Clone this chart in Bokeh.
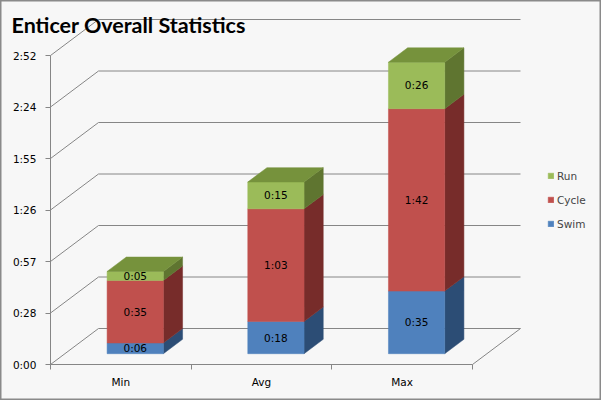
from bokeh.plotting import figure
from bokeh.models import Range1d, FixedTicker, Legend, LegendItem, Label, LinearAxis
from bokeh.embed import file_html
from bokeh.resources import INLINE
from bokeh.core.properties import value

# ---- data ----
categories = ["Min", "Avg", "Max"]
series = ["Swim", "Cycle", "Run"]
swim = [6, 18, 35]        # minutes
cycle = [35, 63, 102]
run = [5, 15, 26]
y_ticks = [0, 28.8, 57.6, 86.4, 115.2, 144, 172.8]
y_tick_labels = ["0:00", "0:28", "0:57", "1:26", "1:55", "2:24", "2:52"]

front_colors = ["#4f81bd", "#c0504d", "#9bbb59"]
side_colors = ["#2c4d75", "#772c2a", "#5f7530"]
top_color = "#76923c"
grid_color = "#868686"
bg = "#f7f7f7"
FONT = "DejaVu Sans"
FS = "10.5px"

def fmt(m):
    return f"{m // 60}:{m % 60:02d}"

# ---- layout (pixels) ----
W, H = 601, 400
ORIGIN_X, ORIGIN_Y = 50, 364  # canvas pixel of the front axes corner
PX_X = 140.67                 # px per category
PX_Y = 309 / 172.8            # px per minute
DX = 48 / PX_X                # depth offset in x data units
DY = 36 / PX_Y                # depth offset in y data units
BAR_W = 0.4
Z0, ZD = 0.3, 0.4             # bar depth start / depth fraction

p = figure(width=W, height=H,
           x_range=Range1d(-ORIGIN_X / PX_X, (W - ORIGIN_X) / PX_X),
           y_range=Range1d(-(H - ORIGIN_Y) / PX_Y, ORIGIN_Y / PX_Y),
           x_axis_location=None, y_axis_location=None,
           output_backend="svg", toolbar_location=None, min_border=0,
           background_fill_color=bg, border_fill_color=bg)
p.grid.visible = False
p.outline_line_color = "#8a8a8a"
p.outline_line_width = 2

n = len(categories)
# back wall gridlines + left wall diagonals
gx = [[0, DX, n + DX] for t in y_ticks]
gy = [[t, t + DY, t + DY] for t in y_ticks]
gx.append([n, n + DX])
gy.append([0, DY])
p.multi_line(gx, gy, line_color=grid_color, line_width=1)

# bars
stack = [swim, cycle, run]
front_renderers = []
label_x, label_y, label_t = [], [], []
for s, vals in enumerate(stack):
    fxs, fys, sxs, sys_ = [], [], [], []
    for i in range(n):
        lo = Z0 * DY + sum(stack[k][i] for k in range(s))
        hi = lo + vals[i]
        x0 = i + (1 - BAR_W) / 2 + Z0 * DX
        x1 = x0 + BAR_W
        ddx, ddy = ZD * DX, ZD * DY
        fxs.append([x0, x1, x1, x0]); fys.append([lo, lo, hi, hi])
        sxs.append([x1, x1 + ddx, x1 + ddx, x1]); sys_.append([lo, lo + ddy, hi + ddy, hi])
        label_x.append((x0 + x1) / 2); label_y.append((lo + hi) / 2); label_t.append(fmt(vals[i]))
    p.patches(sxs, sys_, fill_color=side_colors[s], line_color=side_colors[s], line_width=0.5)
    r = p.patches(fxs, fys, fill_color=front_colors[s], line_color=front_colors[s], line_width=0.5)
    front_renderers.append(r)

# top faces
txs, tys = [], []
for i in range(n):
    top = Z0 * DY + swim[i] + cycle[i] + run[i]
    x0 = i + (1 - BAR_W) / 2 + Z0 * DX
    x1 = x0 + BAR_W
    ddx, ddy = ZD * DX, ZD * DY
    txs.append([x0, x1, x1 + ddx, x0 + ddx]); tys.append([top, top, top + ddy, top + ddy])
p.patches(txs, tys, fill_color=top_color, line_color=top_color, line_width=0.5)

p.text(label_x, label_y, text=label_t, text_align="center", text_baseline="middle",
       text_font=value(FONT), text_font_size=FS, text_color="#000000")

# axes (drawn at the data origin, inside the frame)
ya = LinearAxis(fixed_location=0)
ya.ticker = FixedTicker(ticks=y_ticks, minor_ticks=[])
ya.major_label_overrides = {t: l for t, l in zip(y_ticks, y_tick_labels)}
ya.bounds = (0, y_ticks[-1])
ya.major_tick_out = 5
ya.major_tick_in = 0
ya.major_label_standoff = 9

xa = LinearAxis(fixed_location=0)
centers = [i + 0.5 for i in range(n)]
xa.ticker = FixedTicker(ticks=centers, minor_ticks=list(range(n + 1)))
xa.major_label_overrides = {c: l for c, l in zip(centers, categories)}
xa.bounds = (0, n)
xa.major_tick_out = 0
xa.major_tick_in = 0
xa.minor_tick_out = 5
xa.minor_tick_in = 0
xa.major_label_standoff = 6

for ax in (xa, ya):
    ax.axis_line_color = grid_color
    ax.major_tick_line_color = grid_color
    ax.minor_tick_line_color = grid_color
    ax.major_label_text_font = FONT
    ax.major_label_text_font_size = FS
    ax.major_label_text_color = "#000000"
p.add_layout(ya, "left")
p.add_layout(xa, "below")

# legend
items = [LegendItem(label=series[k], renderers=[front_renderers[k]]) for k in (2, 1, 0)]
legend = Legend(items=items, location=(547, H - 230), glyph_width=7, glyph_height=7,
                label_height=13, spacing=11, padding=0, margin=0,
                border_line_color=None, background_fill_alpha=0, label_standoff=3,
                label_text_font=FONT, label_text_font_size=FS)
p.add_layout(legend)

# title
title = Label(x=11, y=24, x_units="canvas", y_units="canvas",
              text="Enticer Overall Statistics", text_font="Lato",
              text_font_style="bold", text_font_size="21.5px",
              text_baseline="alphabetic", text_color="#000000")
p.add_layout(title)

open("out.html", "w").write(file_html(p, INLINE))
